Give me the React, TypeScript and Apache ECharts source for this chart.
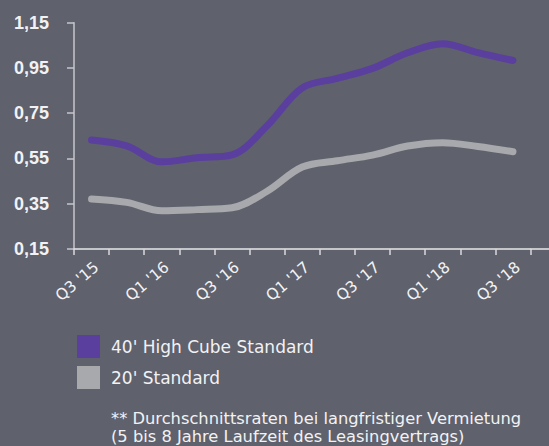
import React, { useEffect, useRef } from "react";
import * as echarts from "echarts";

const categories = ["Q3 '15", "Q4 '15", "Q1 '16", "Q2 '16", "Q3 '16", "Q4 '16", "Q1 '17", "Q2 '17", "Q3 '17", "Q4 '17", "Q1 '18", "Q2 '18", "Q3 '18"];
const highCube = [0.632, 0.606, 0.535, 0.553, 0.566, 0.695, 0.862, 0.904, 0.948, 1.017, 1.057, 1.018, 0.983];
const standard20 = [0.371, 0.356, 0.319, 0.324, 0.332, 0.405, 0.512, 0.54, 0.565, 0.605, 0.62, 0.603, 0.58];
const yTicks = [0.15, 0.35, 0.55, 0.75, 0.95, 1.15];
const seriesNames = ["40' High Cube Standard", "20' Standard"];
const footnote = "** Durchschnittsraten bei langfristiger Vermietung\n(5 bis 8 Jahre Laufzeit des Leasingvertrags)";

const BG = "#5f616c";
const PURPLE = "#5a3f9e";
const GRAY = "#a8a9ad";
const TEXT = "#f2f2f4";

export default function App() {
  const ref = useRef<HTMLDivElement>(null);
  useEffect(() => {
    if (!ref.current) return;
    const chart = echarts.init(ref.current, null, { renderer: "svg" });
    const gridLeft = 74;
    const gridRight = 18.5;
    const gridTop = 22.7;
    const gridBottom = 197;
    chart.setOption({
      animation: false,
      backgroundColor: BG,
      grid: { left: gridLeft, right: gridRight, top: gridTop, bottom: gridBottom },
      legend: {
        orient: "vertical",
        left: 77,
        top: 335,
        padding: 0,
        icon: "rect",
        itemWidth: 23,
        itemHeight: 23,
        itemGap: 8,
        data: seriesNames,
        textStyle: { color: TEXT, fontFamily: "DejaVu Sans", fontSize: 17, padding: [0, 0, 0, 6] },
        selectedMode: false,
      },
      xAxis: {
        type: "category",
        data: categories,
        boundaryGap: true,
        axisLine: { show: true, lineStyle: { color: "#e8e8ea", width: 1.5 } },
        axisTick: { show: true, interval: 0, length: 6, lineStyle: { color: "#d8d8dc", width: 1.5 } },
        axisLabel: {
          interval: 1,
          rotate: 40,
          margin: 10,
          verticalAlign: "top",
          color: TEXT,
          fontFamily: "DejaVu Sans",
          fontSize: 15.5,
        },
        splitLine: { show: false },
      },
      yAxis: {
        type: "value",
        min: 0.15,
        max: 1.15,
        axisLine: { show: true, lineStyle: { color: "#c6c7cc", width: 1.5 } },
        axisTick: { show: true, length: 7, customValues: yTicks, lineStyle: { color: "#c6c7cc", width: 1.5 } },
        axisLabel: {
          customValues: yTicks,
          margin: 25,
          color: TEXT,
          fontFamily: "Liberation Sans",
          fontWeight: "bold",
          fontSize: 18,
          formatter: (v: number) => v.toFixed(2).replace(".", ","),
        },
        splitLine: { show: false },
      },
      series: [
        {
          name: seriesNames[0],
          type: "line",
          data: highCube,
          smooth: 0.35,
          symbol: "none",
          itemStyle: { color: PURPLE },
          lineStyle: { color: PURPLE, width: 7, cap: "round", join: "round" },
        },
        {
          name: seriesNames[1],
          type: "line",
          data: standard20,
          smooth: 0.35,
          symbol: "none",
          itemStyle: { color: GRAY },
          lineStyle: { color: GRAY, width: 7, cap: "round", join: "round" },
        },
      ],
      graphic: [
        {
          type: "line",
          shape: { x1: 549 - gridRight, y1: 446 - gridBottom, x2: 549, y2: 446 - gridBottom },
          style: { stroke: "#e8e8ea", lineWidth: 1.5 },
          silent: true,
        },
        {
          type: "text",
          left: 111,
          top: 409,
          style: {
            text: footnote,
            fill: TEXT,
            font: "16.3px 'DejaVu Sans'",
            lineHeight: 18.5,
          },
        },
      ],
    });
    return () => chart.dispose();
  }, []);
  return (
    <div
      ref={ref}
      style={{ position: "fixed", left: 0, top: 0, width: 549, height: 446 }}
    />
  );
}
